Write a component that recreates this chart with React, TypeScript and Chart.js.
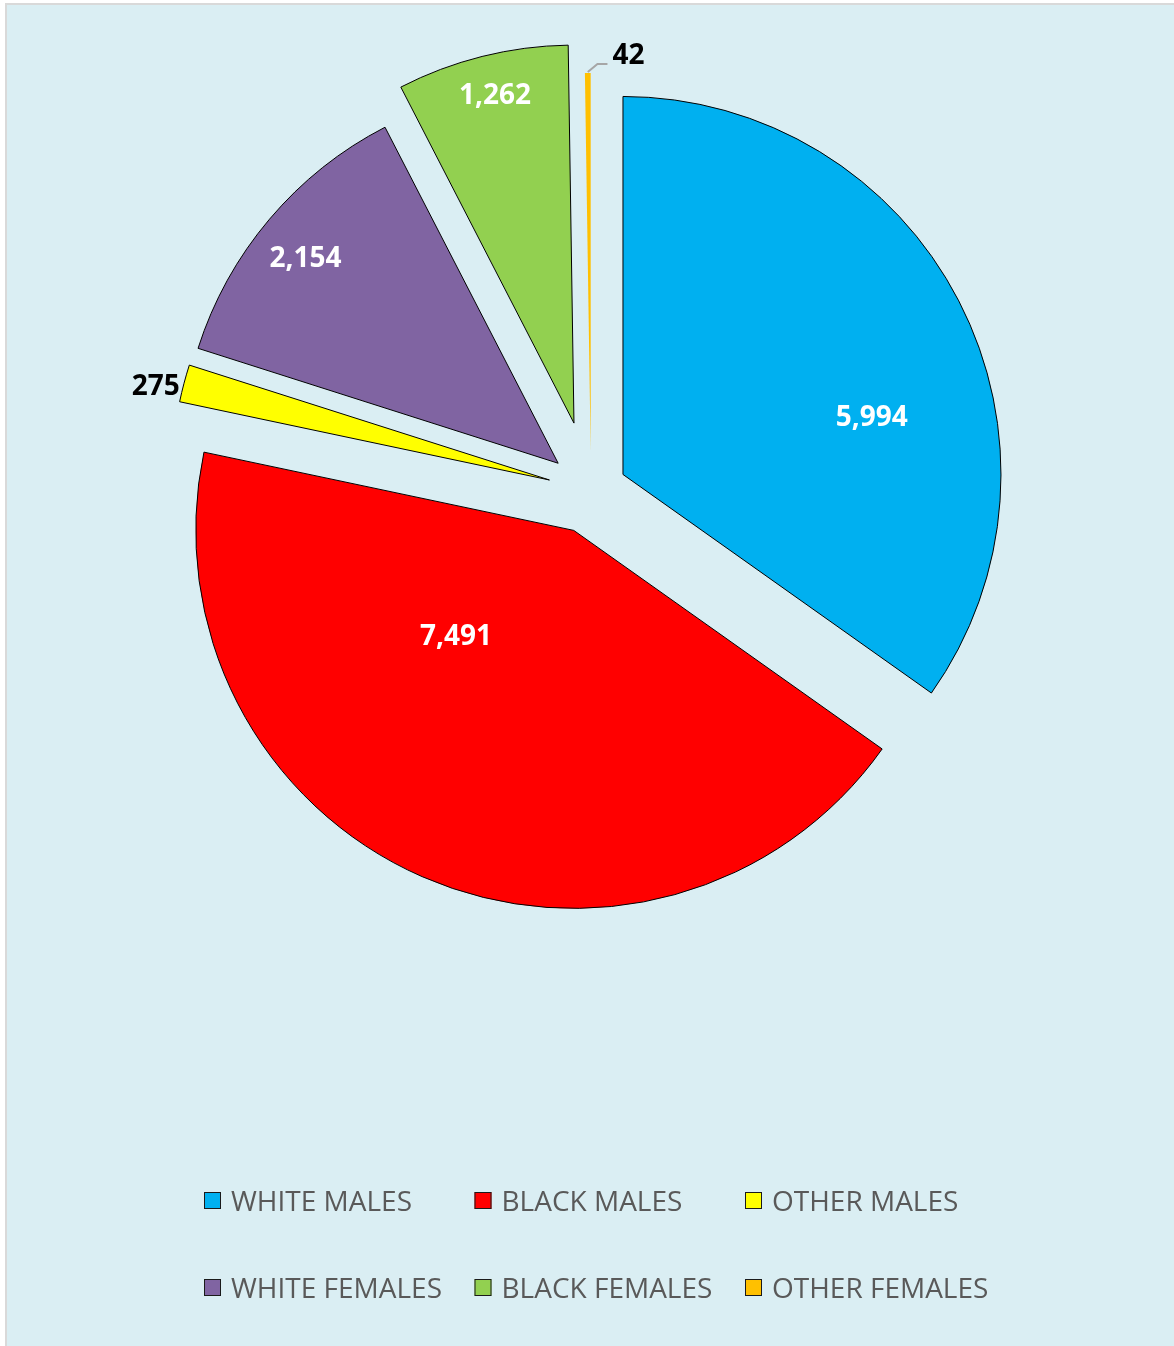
import React, { useEffect, useRef } from "react";
import { Chart, registerables } from "chart.js";

Chart.register(...registerables);

// ---- data ----
const categories = [
  "WHITE MALES",
  "BLACK MALES",
  "OTHER MALES",
  "WHITE FEMALES",
  "BLACK FEMALES",
  "OTHER FEMALES",
];
const values = [5994, 7491, 275, 2154, 1262, 42];

// ---- styles ----
const colors = ["#00B0F0", "#FF0000", "#FFFF00", "#8064A2", "#92D050", "#FFC000"];
const borderWidths = [1, 1, 1, 1, 1, 0];
const explodePx = [36, 43, 43, 43, 70, 40];
const labelAngleShiftDeg = [14.6, 24.2, -1.6, -1.2, 0.5, 5.9];
const labelRadiusFrac = [0.675, 0.42, 1.07, 0.86, 0.89, 1.05];
const labelColors = ["#FFFFFF", "#FFFFFF", "#000000", "#FFFFFF", "#FFFFFF", "#000000"];
const leaderLine = [false, false, false, false, false, true];

const LABEL_FONT = "bold 28px 'Open Sans'";
const LEGEND_FONT = "28px 'Open Sans'";
const LEGEND_LEFT = 204;
const LEGEND_COL_W = 270.5;
const LEGEND_ROW0 = 1200.5;
const LEGEND_ROW_H = 87;
const LEGEND_BOX = 17;

const explodePlugin = {
  id: "explodeSlices",
  afterDatasetUpdate(chart: any, args: any) {
    const meta = args.meta;
    meta.data.forEach((el: any, i: number) => {
      const mid = (el.startAngle + el.endAngle) / 2;
      const d = explodePx[i] || 0;
      el.x += Math.cos(mid) * d;
      el.y += Math.sin(mid) * d;
    });
  },
};

const labelPlugin = {
  id: "sliceLabels",
  afterDatasetsDraw(chart: any) {
    const ctx = chart.ctx;
    const meta = chart.getDatasetMeta(0);
    ctx.save();
    ctx.font = LABEL_FONT;
    ctx.textAlign = "center";
    ctx.textBaseline = "middle";
    meta.data.forEach((el: any, i: number) => {
      const mid = (el.startAngle + el.endAngle) / 2;
      const a = mid + (labelAngleShiftDeg[i] * Math.PI) / 180;
      const r = el.outerRadius * labelRadiusFrac[i];
      const x = el.x + Math.cos(a) * r;
      const y = el.y + Math.sin(a) * r;
      const text = values[i].toLocaleString("en-US");
      if (leaderLine[i]) {
        const w = ctx.measureText(text).width;
        const sx = el.x + Math.cos(mid) * (el.outerRadius + 1);
        const sy = el.y + Math.sin(mid) * (el.outerRadius + 1);
        const ex = x - w / 2 - 5;
        const ey = y + 8;
        ctx.strokeStyle = "#A6A6A6";
        ctx.lineWidth = 2;
        ctx.beginPath();
        ctx.moveTo(sx, sy);
        ctx.lineTo(ex - 10, ey);
        ctx.lineTo(ex, ey);
        ctx.stroke();
      }
      ctx.fillStyle = labelColors[i];
      ctx.fillText(text, x, y);
    });
    ctx.restore();
  },
};

const legendPlugin = {
  id: "gridLegend",
  afterDraw(chart: any) {
    const ctx = chart.ctx;
    ctx.save();
    ctx.font = LEGEND_FONT;
    ctx.textAlign = "left";
    ctx.textBaseline = "middle";
    categories.forEach((label, i) => {
      const col = i % 3;
      const row = Math.floor(i / 3);
      const bx = LEGEND_LEFT + col * LEGEND_COL_W;
      const cy = LEGEND_ROW0 + row * LEGEND_ROW_H;
      ctx.fillStyle = colors[i];
      ctx.fillRect(bx, cy - LEGEND_BOX / 2, LEGEND_BOX, LEGEND_BOX);
      ctx.strokeStyle = "#1a1a1a";
      ctx.lineWidth = 1;
      ctx.strokeRect(bx + 0.5, cy - LEGEND_BOX / 2 + 0.5, LEGEND_BOX - 1, LEGEND_BOX - 1);
      ctx.fillStyle = "#595959";
      ctx.fillText(label, bx + LEGEND_BOX + 10, cy + 2.5);
    });
    ctx.restore();
  },
};

export default function App() {
  const canvasRef = useRef<HTMLCanvasElement | null>(null);

  useEffect(() => {
    if (!canvasRef.current) return;
    const chart = new Chart(canvasRef.current, {
      type: "pie",
      data: {
        labels: categories,
        datasets: [
          {
            data: values,
            backgroundColor: colors,
            borderColor: "#000000",
            borderWidth: borderWidths,
            borderJoinStyle: "miter",
            radius: 378,
          } as any,
        ],
      },
      options: {
        responsive: false,
        devicePixelRatio: 1,
        animation: false,
        layout: { padding: { left: 8, right: 0, top: 0, bottom: 364 } },
        plugins: {
          legend: { display: false },
          tooltip: { enabled: false },
        },
      } as any,
      plugins: [explodePlugin, labelPlugin, legendPlugin],
    });
    return () => chart.destroy();
  }, []);

  return (
    <div
      style={{
        position: "absolute",
        left: 0,
        top: 0,
        width: 1174,
        height: 1346,
        overflow: "hidden",
        background: "#FFFFFF",
      }}
    >
      <div
        style={{
          position: "absolute",
          left: 5,
          top: 3,
          right: 0,
          bottom: 0,
          background: "#DAEEF3",
          borderLeft: "2px solid #D9D9D9",
          borderTop: "2px solid #D9D9D9",
        }}
      />
      <canvas
        ref={canvasRef}
        width={1174}
        height={1346}
        style={{ position: "absolute", left: 0, top: 0 }}
      />
    </div>
  );
}
